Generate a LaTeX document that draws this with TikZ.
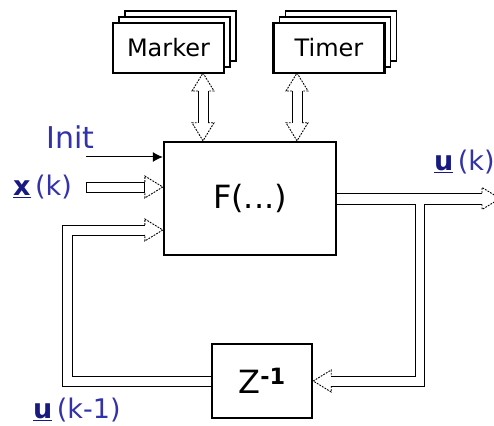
\documentclass[tikz,border=0pt]{standalone}
\usepackage{fontspec}
\setmainfont{DejaVu Sans}
\usepackage{xcolor}
\usepackage{tikz}
\usetikzlibrary{arrows.meta,shadows,calc}

\definecolor{lblue}{RGB}{50,50,170}
\definecolor{ublue}{RGB}{25,25,130}

% hollow arrow head, tip at #1, pointing to angle #2
\newcommand{\hhead}[2]{\draw[headline,shift={(#1)},rotate=#2] (-18,5) -- (-18,11) -- (0,0) -- (-18,-11) -- (-18,-5);}

\begin{document}
\begin{tikzpicture}[x=1pt,y=1pt,
    box/.style={draw,line width=2.4pt,fill=white,inner sep=0pt},
    stackbox/.style={box,minimum width=111pt,minimum height=50pt,font=\fontsize{24}{24}\selectfont,
      double copy shadow={shadow xshift=6pt,shadow yshift=6pt,draw,line width=1.1pt,fill=white}},
    shaft/.style={line width=0.9pt},
    headline/.style={line width=0.9pt,dash pattern=on 1.8pt off 1.2pt},
    lbl/.style={text=lblue,anchor=west,inner sep=0pt}]
    \useasboundingbox (0,0) rectangle (494,425);
    \clip (0,0) rectangle (494,425);

    \node[box,minimum width=172pt,minimum height=113pt,font=\fontsize{32}{32}\selectfont] (F) at (250,226.5) {F(...)};
    \node[stackbox] (marker) at (168.5,377) {Marker};
    \node[stackbox] (timer) at (329,377) {Timer};
    \node[box,minimum width=100pt,minimum height=74pt,font=\fontsize{32}{32}\selectfont] (zinv) at (262,44) {Z\textsuperscript{\textbf{-1}}};

    % labels
    \node[lbl,font=\fontsize{30}{30}\selectfont] (init) at (46,288) {Init};
    \node[lbl,font=\fontsize{27}{27}\selectfont] (xk) at (13,238) {\textcolor{ublue}{\underline{\textbf{x}}}\,(k)};
    \node[lbl,font=\fontsize{27}{27}\selectfont] (uk) at (434,263) {\textcolor{ublue}{\underline{\textbf{u}}}\,(k)};
    \node[lbl,font=\fontsize{27}{27}\selectfont] (ukm) at (33,15) {\textcolor{ublue}{\underline{\textbf{u}}}\,(k-1)};

    % inputs
    \coordinate (initS) at (86,268);
    \draw[line width=1pt,-{Latex[length=10pt,width=10pt]}] (initS) -- (initS -| F.west);
    \coordinate (xS) at (86,238);
    \coordinate (xT) at (xS -| F.west);
    \draw[shaft] ($(xS)+(0,5)$) -- ($(xT)+(-18,5)$) -- ($(xT)+(-18,-5)$) -- ($(xS)+(0,-5)$) -- cycle;
    \hhead{xT}{0}

    % Marker and Timer links
    \foreach \b/\xx in {marker/203,timer/297}{
      \coordinate (top) at (\xx,352);
      \coordinate (bot) at (top |- F.north);
      \draw[shaft] ($(top)+(-5,-18)$) -- ($(bot)+(-5,18)$) ($(top)+(5,-18)$) -- ($(bot)+(5,18)$);
      \hhead{top}{90}
      \hhead{bot}{-90}
    }

    % output and branch to Z^-1
    \coordinate (oT) at (500,226.5);
    \draw[shaft] ($(F.east)+(0,5.5)$) -- ($(oT)+(-18,5.5)$);
    \draw[shaft] ($(F.east)+(0,-5.5)$) -- (415,221) -- (415,49) -- ($(zinv.east)+(18,5)$);
    \draw[shaft] ($(oT)+(-18,-5.5)$) -- (424,221) -- (424,39) -- ($(zinv.east)+(18,-5)$);
    \draw[headline,shift={(oT)}] (-18,5.5) -- (-18,11) -- (0,0) -- (-18,-11) -- (-18,-5.5);
    \hhead{zinv.east}{180}

    % feedback into F
    \coordinate (fT) at (F.west |- 0,195);
    \draw[shaft] (zinv.west |- 0,49) -- (72,49) -- (72,190) -- ($(fT)+(-18,-5)$);
    \draw[shaft] (zinv.west |- 0,39) -- (62,39) -- (62,200) -- ($(fT)+(-18,5)$);
    \hhead{fT}{0}
\end{tikzpicture}
\end{document}
